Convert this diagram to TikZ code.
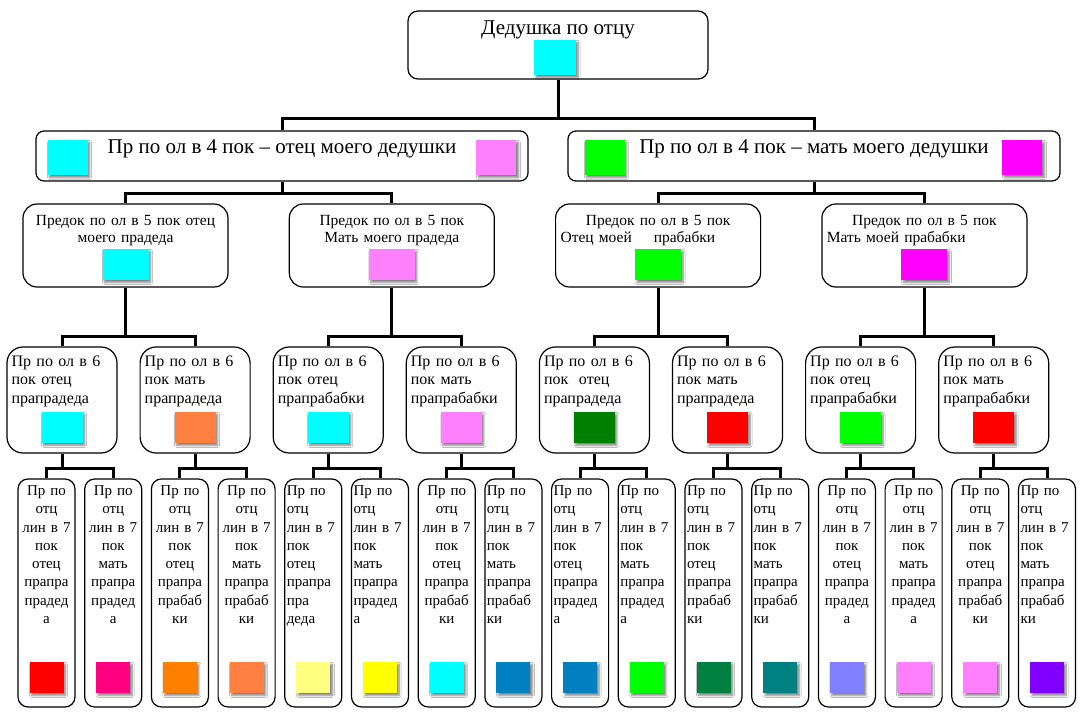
\documentclass[tikz,border=0pt]{standalone}
\usepackage{fontspec}
\setmainfont{Liberation Serif}
\usepackage{xcolor}
\definecolor{sqcyan}{RGB}{0,255,255}
\definecolor{sqpink}{RGB}{255,128,255}
\definecolor{sqgreen}{RGB}{0,255,0}
\definecolor{sqmagenta}{RGB}{255,0,255}
\definecolor{sqorange}{RGB}{255,128,64}
\definecolor{sqdkgreen}{RGB}{0,128,0}
\definecolor{sqred}{RGB}{255,0,0}
\definecolor{sqrose}{RGB}{255,0,128}
\definecolor{sqamber}{RGB}{255,128,0}
\definecolor{sqlemon}{RGB}{255,255,128}
\definecolor{sqyellow}{RGB}{255,255,0}
\definecolor{sqblue}{RGB}{0,128,192}
\definecolor{sqforest}{RGB}{0,128,64}
\definecolor{sqteal}{RGB}{0,128,128}
\definecolor{sqlilac}{RGB}{128,128,255}
\definecolor{sqviolet}{RGB}{128,0,255}
\usepackage{tikz}
\usetikzlibrary{positioning,shadows.blur}

\begin{document}
\begin{tikzpicture}[x=1pt,y=-1pt,
  box/.style={draw,line width=1.2pt,inner sep=0pt},
  box1/.style={box,rounded corners=10pt,minimum width=300pt,minimum height=68pt},
  box2/.style={box,rounded corners=8pt,minimum width=492pt,minimum height=50pt},
  box3/.style={box,rounded corners=14pt,minimum width=205pt,minimum height=83pt},
  box4/.style={box,rounded corners=16pt,minimum width=110pt,minimum height=106pt},
  box5/.style={box,rounded corners=10pt,minimum width=57pt,minimum height=228pt},
  t1/.style={inner sep=0pt,font=\fontsize{21}{24}\selectfont},
  t3/.style={inner sep=0pt,text width=195pt,align=center,font=\fontsize{15.5}{16.5}\selectfont},
  t4/.style={inner sep=0pt,text width=100pt,align=left,font=\fontsize{16}{18.5}\selectfont},
  t5/.style={inner sep=0pt,text width=53pt,font=\fontsize{15}{18.3}\selectfont},
  t5c/.style={t5,align=center},
  t5l/.style={t5,align=left},
  sq/.style={inner sep=0pt,blur shadow={shadow xshift=2pt,shadow yshift=-2pt,shadow blur steps=6,shadow blur radius=2pt,shadow opacity=50}},
  sq1/.style={sq,minimum width=42pt,minimum height=35pt},
  sq2/.style={sq,minimum width=40pt,minimum height=35pt},
  sq3/.style={sq,minimum width=46pt,minimum height=31pt},
  sq4/.style={sq,minimum width=41pt,minimum height=31pt},
  sq5/.style={sq,minimum width=34pt,minimum height=31pt},
  link/.style={line width=3pt}]
  \fill[white] (0,0) rectangle (1087,722);
  \useasboundingbox (0,0) rectangle (1087,722);

  % grandfather
  \node[box1] (gf) at (558,45) {};
  \node[t1, below=10pt of gf.north] (gft) {Дедушка по отцу};
  \node[sq1, fill=sqcyan, above=4pt of gf.south, xshift=-3pt] (gfs) {};

  % 4th generation
  \node[box2] (p4l) at (282,156) {};
  \node[t1, below=9pt of p4l.north] (t4l) {Пр по ол в 4 пок -- отец моего дедушки};
  \node[sq2, fill=sqcyan, right=12pt of p4l.west, yshift=-2pt] (s4la) {};
  \node[sq2, fill=sqpink, left=12pt of p4l.east, yshift=-2pt] (s4lb) {};
  \node[box2] (p4r) at (814,156) {};
  \node[t1, below=9pt of p4r.north] (t4r) {Пр по ол в 4 пок -- мать моего дедушки};
  \node[sq2, fill=sqgreen, right=17pt of p4r.west, yshift=-2pt] (s4ra) {};
  \node[sq2, fill=sqmagenta, left=18pt of p4r.east, yshift=-2pt] (s4rb) {};

  % 5th generation
  \node[box3] (p5a) at (125.5,245.5) {};
  \node[t3, below=12pt of p5a.north] (t5a) {Предок по ол в 5 пок отец\\моего прадеда};
  \node[sq3, fill=sqcyan, above=7pt of p5a.south] (s5a) {};
  \node[box3] (p5b) at (391.8,245.5) {};
  \node[t3, below=12pt of p5b.north] (t5b) {Предок по ол в 5 пок\\Мать моего прадеда};
  \node[sq3, fill=sqpink, above=7pt of p5b.south] (s5b) {};
  \node[box3] (p5c) at (658.1,245.5) {};
  \node[t3, below=12pt of p5c.north] (t5c) {Предок по ол в 5 пок\\\makebox[\linewidth][l]{Отец моей\hspace{22pt}прабабки}};
  \node[sq3, fill=sqgreen, above=7pt of p5c.south] (s5c) {};
  \node[box3] (p5d) at (924.4,245.5) {};
  \node[t3, below=12pt of p5d.north] (t5d) {Предок по ол в 5 пок\\\makebox[\linewidth][l]{Мать моей прабабки}};
  \node[sq3, fill=sqmagenta, above=7pt of p5d.south] (s5d) {};

  % 6th generation
  \node[box4] (p6a) at (62,400) {};
  \node[t4, below right=9pt and 5pt of p6a.north west] (t6a) {Пр по ол в 6\\пок отец\\прапрадеда};
  \node[sq4, fill=sqcyan, above=10pt of p6a.south] (s6a) {};
  \node[box4] (p6b) at (195.1,400) {};
  \node[t4, below right=9pt and 5pt of p6b.north west] (t6b) {Пр по ол в 6\\пок мать\\прапрадеда};
  \node[sq4, fill=sqorange, above=10pt of p6b.south] (s6b) {};
  \node[box4] (p6c) at (328.2,400) {};
  \node[t4, below right=9pt and 5pt of p6c.north west] (t6c) {Пр по ол в 6\\пок отец\\прапрабабки};
  \node[sq4, fill=sqcyan, above=10pt of p6c.south] (s6c) {};
  \node[box4] (p6d) at (461.3,400) {};
  \node[t4, below right=9pt and 5pt of p6d.north west] (t6d) {Пр по ол в 6\\пок мать\\прапрабабки};
  \node[sq4, fill=sqpink, above=10pt of p6d.south] (s6d) {};
  \node[box4] (p6e) at (594.4,400) {};
  \node[t4, below right=9pt and 5pt of p6e.north west] (t6e) {Пр по ол в 6\\пок\ \ отец\\прапрадеда};
  \node[sq4, fill=sqdkgreen, above=10pt of p6e.south] (s6e) {};
  \node[box4] (p6f) at (727.5,400) {};
  \node[t4, below right=9pt and 5pt of p6f.north west] (t6f) {Пр по ол в 6\\пок мать\\прапрадеда};
  \node[sq4, fill=sqred, above=10pt of p6f.south] (s6f) {};
  \node[box4] (p6g) at (860.6,400) {};
  \node[t4, below right=9pt and 5pt of p6g.north west] (t6g) {Пр по ол в 6\\пок отец\\прапрабабки};
  \node[sq4, fill=sqgreen, above=10pt of p6g.south] (s6g) {};
  \node[box4] (p6h) at (993.7,400) {};
  \node[t4, below right=9pt and 5pt of p6h.north west] (t6h) {Пр по ол в 6\\пок мать\\прапрабабки};
  \node[sq4, fill=sqred, above=10pt of p6h.south] (s6h) {};

  % 7th generation
  \node[box5] (p7a) at (46.5,593) {};
  \node[t5c, below=7pt of p7a.north] (t7a) {Пр по\\отц\\лин в 7\\пок\\отец\\прапра\\прадед\\а};
  \node[sq5, fill=sqred, above=14pt of p7a.south] (s7a) {};
  \node[box5] (p7b) at (113.2,593) {};
  \node[t5c, below=7pt of p7b.north] (t7b) {Пр по\\отц\\лин в 7\\пок\\мать\\прапра\\прадед\\а};
  \node[sq5, fill=sqrose, above=14pt of p7b.south] (s7b) {};
  \node[box5] (p7c) at (179.9,593) {};
  \node[t5c, below=7pt of p7c.north] (t7c) {Пр по\\отц\\лин в 7\\пок\\отец\\прапра\\прабаб\\ки};
  \node[sq5, fill=sqamber, above=14pt of p7c.south] (s7c) {};
  \node[box5] (p7d) at (246.6,593) {};
  \node[t5c, below=7pt of p7d.north] (t7d) {Пр по\\отц\\лин в 7\\пок\\мать\\прапра\\прабаб\\ки};
  \node[sq5, fill=sqorange, above=14pt of p7d.south] (s7d) {};
  \node[box5] (p7e) at (313.3,593) {};
  \node[t5l, below=7pt of p7e.north] (t7e) {Пр по\\отц\\лин в 7\\пок\\отец\\прапра\\пра\\деда};
  \node[sq5, fill=sqlemon, above=14pt of p7e.south] (s7e) {};
  \node[box5] (p7f) at (380,593) {};
  \node[t5l, below=7pt of p7f.north] (t7f) {Пр по\\отц\\лин в 7\\пок\\мать\\прапра\\прадед\\а};
  \node[sq5, fill=sqyellow, above=14pt of p7f.south] (s7f) {};
  \node[box5] (p7g) at (446.7,593) {};
  \node[t5c, below=7pt of p7g.north] (t7g) {Пр по\\отц\\лин в 7\\пок\\отец\\прапра\\прабаб\\ки};
  \node[sq5, fill=sqcyan, above=14pt of p7g.south] (s7g) {};
  \node[box5] (p7h) at (513.4,593) {};
  \node[t5l, below=7pt of p7h.north] (t7h) {Пр по\\отц\\лин в 7\\пок\\мать\\прапра\\прабаб\\ки};
  \node[sq5, fill=sqblue, above=14pt of p7h.south] (s7h) {};
  \node[box5] (p7i) at (580.1,593) {};
  \node[t5l, below=7pt of p7i.north] (t7i) {Пр по\\отц\\лин в 7\\пок\\отец\\прапра\\прадед\\а};
  \node[sq5, fill=sqblue, above=14pt of p7i.south] (s7i) {};
  \node[box5] (p7j) at (646.8,593) {};
  \node[t5l, below=7pt of p7j.north] (t7j) {Пр по\\отц\\лин в 7\\пок\\мать\\прапра\\прадед\\а};
  \node[sq5, fill=sqgreen, above=14pt of p7j.south] (s7j) {};
  \node[box5] (p7k) at (713.5,593) {};
  \node[t5l, below=7pt of p7k.north] (t7k) {Пр по\\отц\\лин в 7\\пок\\отец\\прапра\\прабаб\\ки};
  \node[sq5, fill=sqforest, above=14pt of p7k.south] (s7k) {};
  \node[box5] (p7l) at (780.2,593) {};
  \node[t5l, below=7pt of p7l.north] (t7l) {Пр по\\отц\\лин в 7\\пок\\мать\\прапра\\прабаб\\ки};
  \node[sq5, fill=sqteal, above=14pt of p7l.south] (s7l) {};
  \node[box5] (p7m) at (846.9,593) {};
  \node[t5c, below=7pt of p7m.north] (t7m) {Пр по\\отц\\лин в 7\\пок\\отец\\прапра\\прадед\\а};
  \node[sq5, fill=sqlilac, above=14pt of p7m.south] (s7m) {};
  \node[box5] (p7n) at (913.6,593) {};
  \node[t5c, below=7pt of p7n.north] (t7n) {Пр по\\отц\\лин в 7\\пок\\мать\\прапра\\прадед\\а};
  \node[sq5, fill=sqpink, above=14pt of p7n.south] (s7n) {};
  \node[box5] (p7o) at (980.3,593) {};
  \node[t5c, below=7pt of p7o.north] (t7o) {Пр по\\отц\\лин в 7\\пок\\отец\\прапра\\прабаб\\ки};
  \node[sq5, fill=sqpink, above=14pt of p7o.south] (s7o) {};
  \node[box5] (p7p) at (1047,593) {};
  \node[t5l, below=7pt of p7p.north] (t7p) {Пр по\\отц\\лин в 7\\пок\\мать\\прапра\\прабаб\\ки};
  \node[sq5, fill=sqviolet, above=14pt of p7p.south] (s7p) {};

  % connectors
  \draw[link] (gf.south) -- ++(0,39) -| (p4l.north);
  \draw[link] (gf.south) -- ++(0,39) -| (p4r.north);
  \draw[link] (p4l.south) -- ++(0,12) -| (p5a.north);
  \draw[link] (p4l.south) -- ++(0,12) -| (p5b.north);
  \draw[link] (p4r.south) -- ++(0,12) -| (p5c.north);
  \draw[link] (p4r.south) -- ++(0,12) -| (p5d.north);
  \draw[link] (p5a.south) -- ++(0,49) -| (p6a.north);
  \draw[link] (p5a.south) -- ++(0,49) -| (p6b.north);
  \draw[link] (p5b.south) -- ++(0,49) -| (p6c.north);
  \draw[link] (p5b.south) -- ++(0,49) -| (p6d.north);
  \draw[link] (p5c.south) -- ++(0,49) -| (p6e.north);
  \draw[link] (p5c.south) -- ++(0,49) -| (p6f.north);
  \draw[link] (p5d.south) -- ++(0,49) -| (p6g.north);
  \draw[link] (p5d.south) -- ++(0,49) -| (p6h.north);
  \draw[link] (p6a.south) -- ++(0,15) -| (p7a.north);
  \draw[link] (p6a.south) -- ++(0,15) -| (p7b.north);
  \draw[link] (p6b.south) -- ++(0,15) -| (p7c.north);
  \draw[link] (p6b.south) -- ++(0,15) -| (p7d.north);
  \draw[link] (p6c.south) -- ++(0,15) -| (p7e.north);
  \draw[link] (p6c.south) -- ++(0,15) -| (p7f.north);
  \draw[link] (p6d.south) -- ++(0,15) -| (p7g.north);
  \draw[link] (p6d.south) -- ++(0,15) -| (p7h.north);
  \draw[link] (p6e.south) -- ++(0,15) -| (p7i.north);
  \draw[link] (p6e.south) -- ++(0,15) -| (p7j.north);
  \draw[link] (p6f.south) -- ++(0,15) -| (p7k.north);
  \draw[link] (p6f.south) -- ++(0,15) -| (p7l.north);
  \draw[link] (p6g.south) -- ++(0,15) -| (p7m.north);
  \draw[link] (p6g.south) -- ++(0,15) -| (p7n.north);
  \draw[link] (p6h.south) -- ++(0,15) -| (p7o.north);
  \draw[link] (p6h.south) -- ++(0,15) -| (p7p.north);
\end{tikzpicture}
\end{document}
